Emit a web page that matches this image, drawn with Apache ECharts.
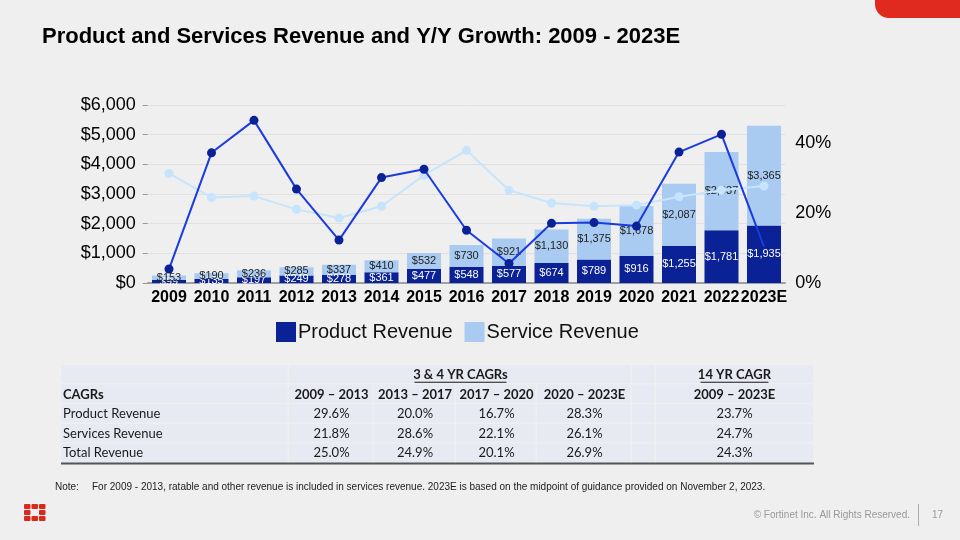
<!DOCTYPE html>
<html>
<head>
<meta charset="utf-8">
<script src="https://cdn.jsdelivr.net/npm/echarts@6/dist/echarts.min.js"></script>
<style>
html,body{margin:0;padding:0;background:#efefef;}
#chart{width:960px;height:540px;}
</style>
</head>
<body>
<div id="chart"></div>
<script>
// ---------- data ----------
const years = ['2009','2010','2011','2012','2013','2014','2015','2016','2017','2018','2019','2020','2021','2022','2023E'];
const productRevenue = [99,135,197,249,278,361,477,548,577,674,789,916,1255,1781,1935];
const serviceRevenue = [153,190,236,285,337,410,532,730,921,1130,1375,1678,2087,2637,3365];
const productGrowth = [4.0,37.3,46.6,26.9,12.3,30.2,32.6,15.1,5.6,17.1,17.3,16.3,37.5,42.6,10.4];
const serviceGrowth = [31.4,24.5,24.9,21.1,18.6,22.0,30.9,38.0,26.6,22.9,22.0,22.3,24.7,26.6,27.8];
const leftTicks = [0,1000,2000,3000,4000,5000,6000];
const rightTicks = [0,20,40];

const title = 'Product and Services Revenue and Y/Y Growth: 2009 - 2023E';
const tableGroupHeaders = ['3 & 4 YR CAGRs','14 YR CAGR'];
const tableFirstHeader = 'CAGRs';
const tablePeriods = ['2009 – 2013','2013 – 2017','2017 – 2020','2020 – 2023E'];
const tableLongPeriod = '2009 – 2023E';
const tableRowLabels = ['Product Revenue','Services Revenue','Total Revenue'];
const tableShortCagr = [
  ['29.6%','20.0%','16.7%','28.3%'],
  ['21.8%','28.6%','22.1%','26.1%'],
  ['25.0%','24.9%','20.1%','26.9%']
];
const tableLongCagr = ['23.7%','24.7%','24.3%'];
const noteLabel = 'Note:';
const noteText = 'For 2009 - 2013, ratable and other revenue is included in services revenue. 2023E is based on the midpoint of guidance provided on November 2, 2023.';
const footerText = '© Fortinet Inc. All Rights Reserved.';
const pageNumber = '17';

// ---------- chart ----------
const chart = echarts.init(document.getElementById('chart'), null, {renderer:'canvas'});
const FONT = '"Liberation Sans", Arial, sans-serif';
const TFONT = 'Lato, "Open Sans", sans-serif';
const fmtMoney = v => '$' + v.toLocaleString('en-US');

// table graphics
const colX = [61, 289, 374, 456, 537, 632, 656, 813];
const rowY = [365, 384.5, 404.3, 424, 443.5, 463];
const cellBg = '#e8eaf3';
const g = [];
const gap = 1.5;
function cell(x0,x1,y0,y1){
  g.push({type:'rect', shape:{x:x0, y:y0, width:x1-x0-gap, height:y1-y0-gap}, style:{fill:cellBg}, silent:true});
}
function txt(t,x,y,opt){
  g.push({type:'text', x:x, y:y, style:Object.assign({text:t, fill:'#1a1a1a', font:'13px '+TFONT, textAlign:'center', textVerticalAlign:'middle'}, opt||{}), silent:true});
}
// row 0 (group header)
cell(colX[0], colX[1], rowY[0], rowY[1]);
cell(colX[1], colX[5], rowY[0], rowY[1]);
cell(colX[5], colX[6], rowY[0], rowY[1]);
cell(colX[6], colX[7]+gap, rowY[0], rowY[1]);
// other rows
for (let r=1;r<5;r++){
  for (let c=0;c<7;c++){
    cell(colX[c], c===6 ? colX[c+1]+gap : colX[c+1], rowY[r], r===4 ? rowY[r+1]+gap : rowY[r+1]);
  }
}
const midY = r => (rowY[r]+rowY[r+1])/2;
const midX = c => (colX[c]+colX[c+1])/2;
txt(tableGroupHeaders[0], (colX[1]+colX[5])/2, midY(0), {font:'bold 13px '+TFONT});
txt(tableGroupHeaders[1], midX(6), midY(0), {font:'bold 13px '+TFONT});
txt(tableFirstHeader, colX[0]+2, midY(1), {font:'bold 13px '+TFONT, textAlign:'left'});
tablePeriods.forEach((p,i)=>txt(p, midX(i+1), midY(1), {font:'bold 13px '+TFONT}));
txt(tableLongPeriod, midX(6), midY(1), {font:'bold 13px '+TFONT});
tableRowLabels.forEach((l,r)=>{
  txt(l, colX[0]+2, midY(r+2), {textAlign:'left'});
  tableShortCagr[r].forEach((v,i)=>txt(v, midX(i+1), midY(r+2)));
  txt(tableLongCagr[r], midX(6), midY(r+2));
});
// underline lines
g.push({type:'line', shape:{x1:(colX[1]+colX[5])/2-46, y1:midY(0)+7.5, x2:(colX[1]+colX[5])/2+46, y2:midY(0)+7.5}, style:{stroke:'#1a1a1a', lineWidth:1}, silent:true});
g.push({type:'line', shape:{x1:midX(6)-34, y1:midY(0)+7.5, x2:midX(6)+34, y2:midY(0)+7.5}, style:{stroke:'#1a1a1a', lineWidth:1}, silent:true});
// bottom border
g.push({type:'line', shape:{x1:colX[0], y1:463.5, x2:colX[7]+1, y2:463.5}, style:{stroke:'#555', lineWidth:2}, silent:true});

// title
g.push({type:'text', x:42, y:37, style:{text:title, font:'bold 22px '+FONT, fill:'#000', textVerticalAlign:'middle'}, silent:true});
// top right red tab
g.push({type:'rect', shape:{x:875, y:-20, width:100, height:38, r:[0,0,0,14]}, style:{fill:'#e12a1f'}, silent:true});
// note
g.push({type:'text', x:55, y:487, style:{text:noteLabel, font:'10px '+FONT, fill:'#222', textVerticalAlign:'middle'}, silent:true});
g.push({type:'text', x:92, y:487, style:{text:noteText, font:'10px '+FONT, fill:'#222', textVerticalAlign:'middle'}, silent:true});
// footer
g.push({type:'text', x:910, y:515, style:{text:footerText, font:'10px '+FONT, fill:'#999', textAlign:'right', textVerticalAlign:'middle'}, silent:true});
g.push({type:'line', shape:{x1:918.5, y1:504, x2:918.5, y2:526}, style:{stroke:'#aaa', lineWidth:1}, silent:true});
g.push({type:'text', x:932, y:515, style:{text:pageNumber, font:'10px '+FONT, fill:'#999', textVerticalAlign:'middle'}, silent:true});
// logo (3x3 grid without centre)
const lx=[24,31.5,39], ly=[504,510,516], lw=[6.5,6.5,6.5], lh=[5,5,5];
for (let i=0;i<3;i++) for (let j=0;j<3;j++){
  if (i===1 && j===1) continue;
  g.push({type:'rect', shape:{x:lx[i], y:ly[j], width:lw[i], height:lh[j], r:1}, style:{fill:'#da291c'}, silent:true});
}

const option = {
  backgroundColor:'#efefef',
  animation:false,
  textStyle:{fontFamily:FONT},
  grid:{left:147.75, right:174.75, top:105, height:178, containLabel:false},
  legend:{
    data:['Product Revenue','Service Revenue'],
    left:271, top:317, icon:'rect', itemWidth:20, itemHeight:20, itemGap:12,
    textStyle:{fontSize:20, color:'#111', fontFamily:FONT, padding:[0,0,0,-3]}
  },
  xAxis:{
    type:'category', data:years,
    axisLine:{show:true, lineStyle:{color:'#888', width:1.5}},
    axisTick:{show:false},
    axisLabel:{fontSize:16, fontWeight:'bold', color:'#000', margin:7, interval:0}
  },
  yAxis:[
    {type:'value', min:leftTicks[0], max:leftTicks[leftTicks.length-1], interval:leftTicks[1]-leftTicks[0],
     axisLine:{show:false}, axisTick:{show:true, length:5, lineStyle:{color:'#999'}},
     splitLine:{lineStyle:{color:'#e0e0e0', width:1}},
     axisLabel:{fontSize:18, color:'#000', margin:12, formatter:v=>fmtMoney(v)}},
    {type:'value', min:rightTicks[0], max:51, interval:rightTicks[1]-rightTicks[0],
     axisLine:{show:false}, axisTick:{show:false}, splitLine:{show:false},
     axisLabel:{fontSize:18, color:'#000', margin:10, showMaxLabel:false,
       formatter:v=> rightTicks.indexOf(v)>=0 ? v+'%' : ''}}
  ],
  series:[
    {name:'Product Revenue', type:'bar', stack:'rev', data:productRevenue, barWidth:34,
     itemStyle:{color:'#0b2196'},
     label:{show:true, position:'inside', color:'#fff', fontSize:11, formatter:p=>fmtMoney(p.value)}},
    {name:'Service Revenue', type:'bar', stack:'rev', data:serviceRevenue, barWidth:34,
     itemStyle:{color:'#a9cbf2'},
     label:{show:true, position:'inside', color:'#222', fontSize:11, formatter:p=>fmtMoney(p.value)}},
    {name:'Service Growth', type:'line', yAxisIndex:1, data:serviceGrowth, z:3,
     symbol:'circle', symbolSize:9, lineStyle:{color:'#c6e4fb', width:2},
     itemStyle:{color:'#c6e4fb'}},
    {name:'Product Growth', type:'line', yAxisIndex:1, data:productGrowth, z:4,
     symbol:(v,p)=> p.dataIndex===productGrowth.length-1 ? 'none' : 'circle',
     symbolSize:9, lineStyle:{color:'#1a3be0', width:2},
     itemStyle:{color:'#0b2196'}}
  ],
  graphic:g
};
chart.setOption(option);
</script>
</body>
</html>
